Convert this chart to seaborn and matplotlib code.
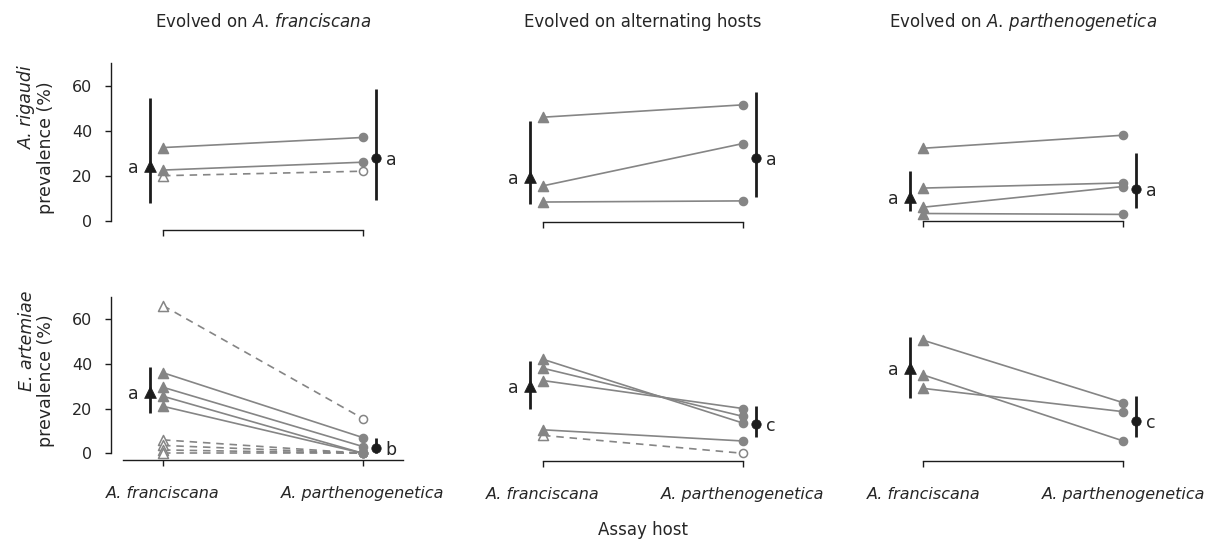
import numpy as np
import pandas as pd
import matplotlib
matplotlib.use("Agg")
import matplotlib.pyplot as plt
import seaborn as sns

# ---------------- data ----------------
assay_hosts = ["A. franciscana", "A. parthenogenetica"]
parasites = ["A. rigaudi", "E. artemiae"]
titles = [r"Evolved on $\mathit{A.\,franciscana}$",
          "Evolved on alternating hosts",
          r"Evolved on $\mathit{A.\,parthenogenetica}$"]

# A. rigaudi prevalence (%) per replicate line: on A. franciscana / on A. parthenogenetica
ar_fr_left = [32.5, 22.5, 20.0]
ar_fr_right = [37.0, 26.0, 22.0]
ar_fr_hollow = [0, 0, 1]
ar_alt_left = [46.0, 15.5, 8.3]
ar_alt_right = [51.5, 34.3, 8.8]
ar_alt_hollow = [0, 0, 0]
ar_pa_left = [32.2, 14.5, 6.0, 3.2]
ar_pa_right = [38.0, 16.8, 15.2, 2.8]
ar_pa_hollow = [0, 0, 0, 0]

# E. artemiae prevalence (%)
ea_fr_left = [36.0, 29.5, 25.5, 21.0, 66.0, 6.0, 3.5, 1.5, 0.0]
ea_fr_right = [7.0, 3.0, 0.0, 0.0, 15.5, 0.0, 0.0, 0.0, 0.0]
ea_fr_hollow = [0, 0, 0, 0, 1, 1, 1, 1, 1]
ea_alt_left = [42.0, 38.0, 32.5, 10.5, 8.0]
ea_alt_right = [13.5, 16.5, 20.0, 5.5, 0.0]
ea_alt_hollow = [0, 0, 0, 0, 1]
ea_pa_left = [50.5, 35.0, 29.0]
ea_pa_right = [22.6, 5.5, 18.6]
ea_pa_hollow = [0, 0, 0]

# group means with intervals: [left, right]
ar_fr_mean, ar_fr_lo, ar_fr_hi = [24.4, 28.0], [7.7, 9.2], [54.4, 58.5]
ar_alt_mean, ar_alt_lo, ar_alt_hi = [19.6, 27.7], [7.3, 10.7], [44.3, 57.3]
ar_pa_mean, ar_pa_lo, ar_pa_hi = [10.7, 13.9], [4.4, 5.8], [22.2, 30.2]
ea_fr_mean, ea_fr_lo, ea_fr_hi = [27.5, 2.2], [17.9, 0.3], [38.7, 6.7]
ea_alt_mean, ea_alt_lo, ea_alt_hi = [30.1, 13.1], [19.8, 7.2], [41.3, 21.3]
ea_pa_mean, ea_pa_lo, ea_pa_hi = [38.0, 14.6], [24.8, 7.4], [52.1, 25.7]

ar_letters = [["a", "a"], ["a", "a"], ["a", "a"]]
ea_letters = [["a", "b"], ["a", "c"], ["a", "c"]]

# ---------------- style ----------------
sns.set_theme(style="ticks")
plt.rcParams["font.family"] = ["DejaVu Sans"]
plt.rcParams["mathtext.fontset"] = "dejavusans"

GREY = "#858585"
DARK = "#1c1c1c"
TXT = "#262626"

fig = plt.figure(figsize=(12.12, 5.42), dpi=100)
W, H = 1212.0, 542.0

XL, XR = 0.74, 2.3
PXU = 200.0  # px per x-unit
YL, YH = -5.0, 72.0
row_geom = [(220.7, 2.25), (453.3, 2.238)]  # zero px, px per unit
col_left_px = [111.0, 491.0, 871.3]

panels = [
    [(ar_fr_left, ar_fr_right, ar_fr_hollow, ar_fr_mean, ar_fr_lo, ar_fr_hi, -4.1),
     (ar_alt_left, ar_alt_right, ar_alt_hollow, ar_alt_mean, ar_alt_lo, ar_alt_hi, -0.4),
     (ar_pa_left, ar_pa_right, ar_pa_hollow, ar_pa_mean, ar_pa_lo, ar_pa_hi, 0.0)],
    [(ea_fr_left, ea_fr_right, ea_fr_hollow, ea_fr_mean, ea_fr_lo, ea_fr_hi, -3.0),
     (ea_alt_left, ea_alt_right, ea_alt_hollow, ea_alt_mean, ea_alt_lo, ea_alt_hi, -3.4),
     (ea_pa_left, ea_pa_right, ea_pa_hollow, ea_pa_mean, ea_pa_lo, ea_pa_hi, -3.4)],
]
letters = [ar_letters, ea_letters]

for r in range(2):
    zero_px, ppu = row_geom[r]
    top_px = zero_px - YH * ppu
    bot_px = zero_px - YL * ppu
    for c in range(3):
        left, right, hollow, mean, lo, hi, xaxis_y = panels[r][c]
        lpx = col_left_px[c]
        ax = fig.add_axes([lpx / W, 1 - bot_px / H, (XR - XL) * PXU / W, (bot_px - top_px) / H])
        n = len(left)
        df = pd.DataFrame({
            "rep": np.repeat(np.arange(n), 2),
            "host": np.tile([1, 2], n),
            "prev": np.ravel(np.column_stack([left, right])),
            "kind": np.where(np.repeat(hollow, 2) == 1, "hollow", "filled"),
        })
        sns.lineplot(data=df, x="host", y="prev", units="rep", estimator=None,
                     style="kind", style_order=["filled", "hollow"],
                     dashes={"filled": "", "hollow": (4.5, 3.5)},
                     color=GREY, lw=1.2, legend=False, ax=ax, zorder=2)
        filled = df[df["kind"] == "filled"]
        holl = df[df["kind"] == "hollow"]
        for sub, fc, ec, z in [(holl, "white", GREY, 3), (filled, GREY, GREY, 4)]:
            if len(sub) == 0:
                continue
            sns.scatterplot(data=sub[sub["host"] == 1], x="host", y="prev", marker="^",
                            s=52, color=fc, edgecolor=ec, linewidth=1.1, ax=ax,
                            legend=False, zorder=z)
            sns.scatterplot(data=sub[sub["host"] == 2], x="host", y="prev", marker="o",
                            s=34, color=fc, edgecolor=ec, linewidth=1.1, ax=ax,
                            legend=False, zorder=z)
        # means with intervals
        mx = [1 - 0.065, 2 + 0.065]
        mdf = pd.DataFrame({"x": mx, "m": mean, "lo": lo, "hi": hi})
        ax.vlines(mdf["x"], mdf["lo"], mdf["hi"], color=DARK, lw=2.0, zorder=5)
        sns.scatterplot(data=mdf.iloc[[0]], x="x", y="m", marker="^", s=72, color=DARK,
                        edgecolor=DARK, linewidth=0.5, ax=ax, legend=False, zorder=6)
        sns.scatterplot(data=mdf.iloc[[1]], x="x", y="m", marker="o", s=46, color=DARK,
                        edgecolor=DARK, linewidth=0.5, ax=ax, legend=False, zorder=6)
        lt = letters[r][c]
        ax.text(1 - 0.15, mean[0], lt[0], ha="center", va="center_baseline",
                fontsize=12.5, color=TXT)
        ax.text(2 + 0.14, mean[1], lt[1], ha="center", va="center_baseline",
                fontsize=12.5, color=TXT)

        ax.set_xlim(XL, XR)
        ax.set_ylim(YL, YH)
        ax.set_xlabel("")
        ax.set_ylabel("")
        for s in ["top", "right"]:
            ax.spines[s].set_visible(False)
        ax.spines["bottom"].set_position(("data", xaxis_y))
        ax.spines["bottom"].set_color(DARK)
        ax.spines["bottom"].set_linewidth(1.0)
        ax.set_xticks([1, 2])
        if r == 1 and c == 0:
            ax.spines["bottom"].set_bounds(0.8, 2.2)
        else:
            ax.spines["bottom"].set_bounds(1, 2)
        if r == 1:
            ax.set_xticklabels(assay_hosts, style="italic", fontsize=11.5, color=TXT)
        else:
            ax.set_xticklabels(["", ""])
        ax.tick_params(axis="x", length=4.5, width=1.0, color=DARK, pad=14)
        if c == 0:
            ax.spines["left"].set_bounds(0, 70)
            ax.spines["left"].set_color(DARK)
            ax.spines["left"].set_linewidth(1.0)
            ax.set_yticks([0, 20, 40, 60])
            ax.tick_params(axis="y", length=4.5, width=1.0, color=DARK, pad=9,
                           labelsize=11.5, labelcolor=TXT)
        else:
            ax.spines["left"].set_visible(False)
            ax.set_yticks([])
        if r == 0:
            cx = (lpx + (1.5 - XL) * PXU) / W
            fig.text(cx, 1 - 22 / H, titles[c], ha="center", va="center",
                     fontsize=12, color=TXT)
    # y labels
    mid = (top_px + bot_px) / 2
    fig.text(27 / W, 1 - (mid - 38) / H, parasites[r], rotation=90, style="italic",
             ha="center", va="center", fontsize=12.5, color=TXT)
    fig.text(46 / W, 1 - (mid + 2) / H, "prevalence (%)", rotation=90,
             ha="center", va="center", fontsize=12.5, color=TXT)

fig.text(643 / W, 1 - 530 / H, "Assay host", ha="center", va="center",
         fontsize=12, color=TXT)

fig.savefig("out.png", dpi=100)
